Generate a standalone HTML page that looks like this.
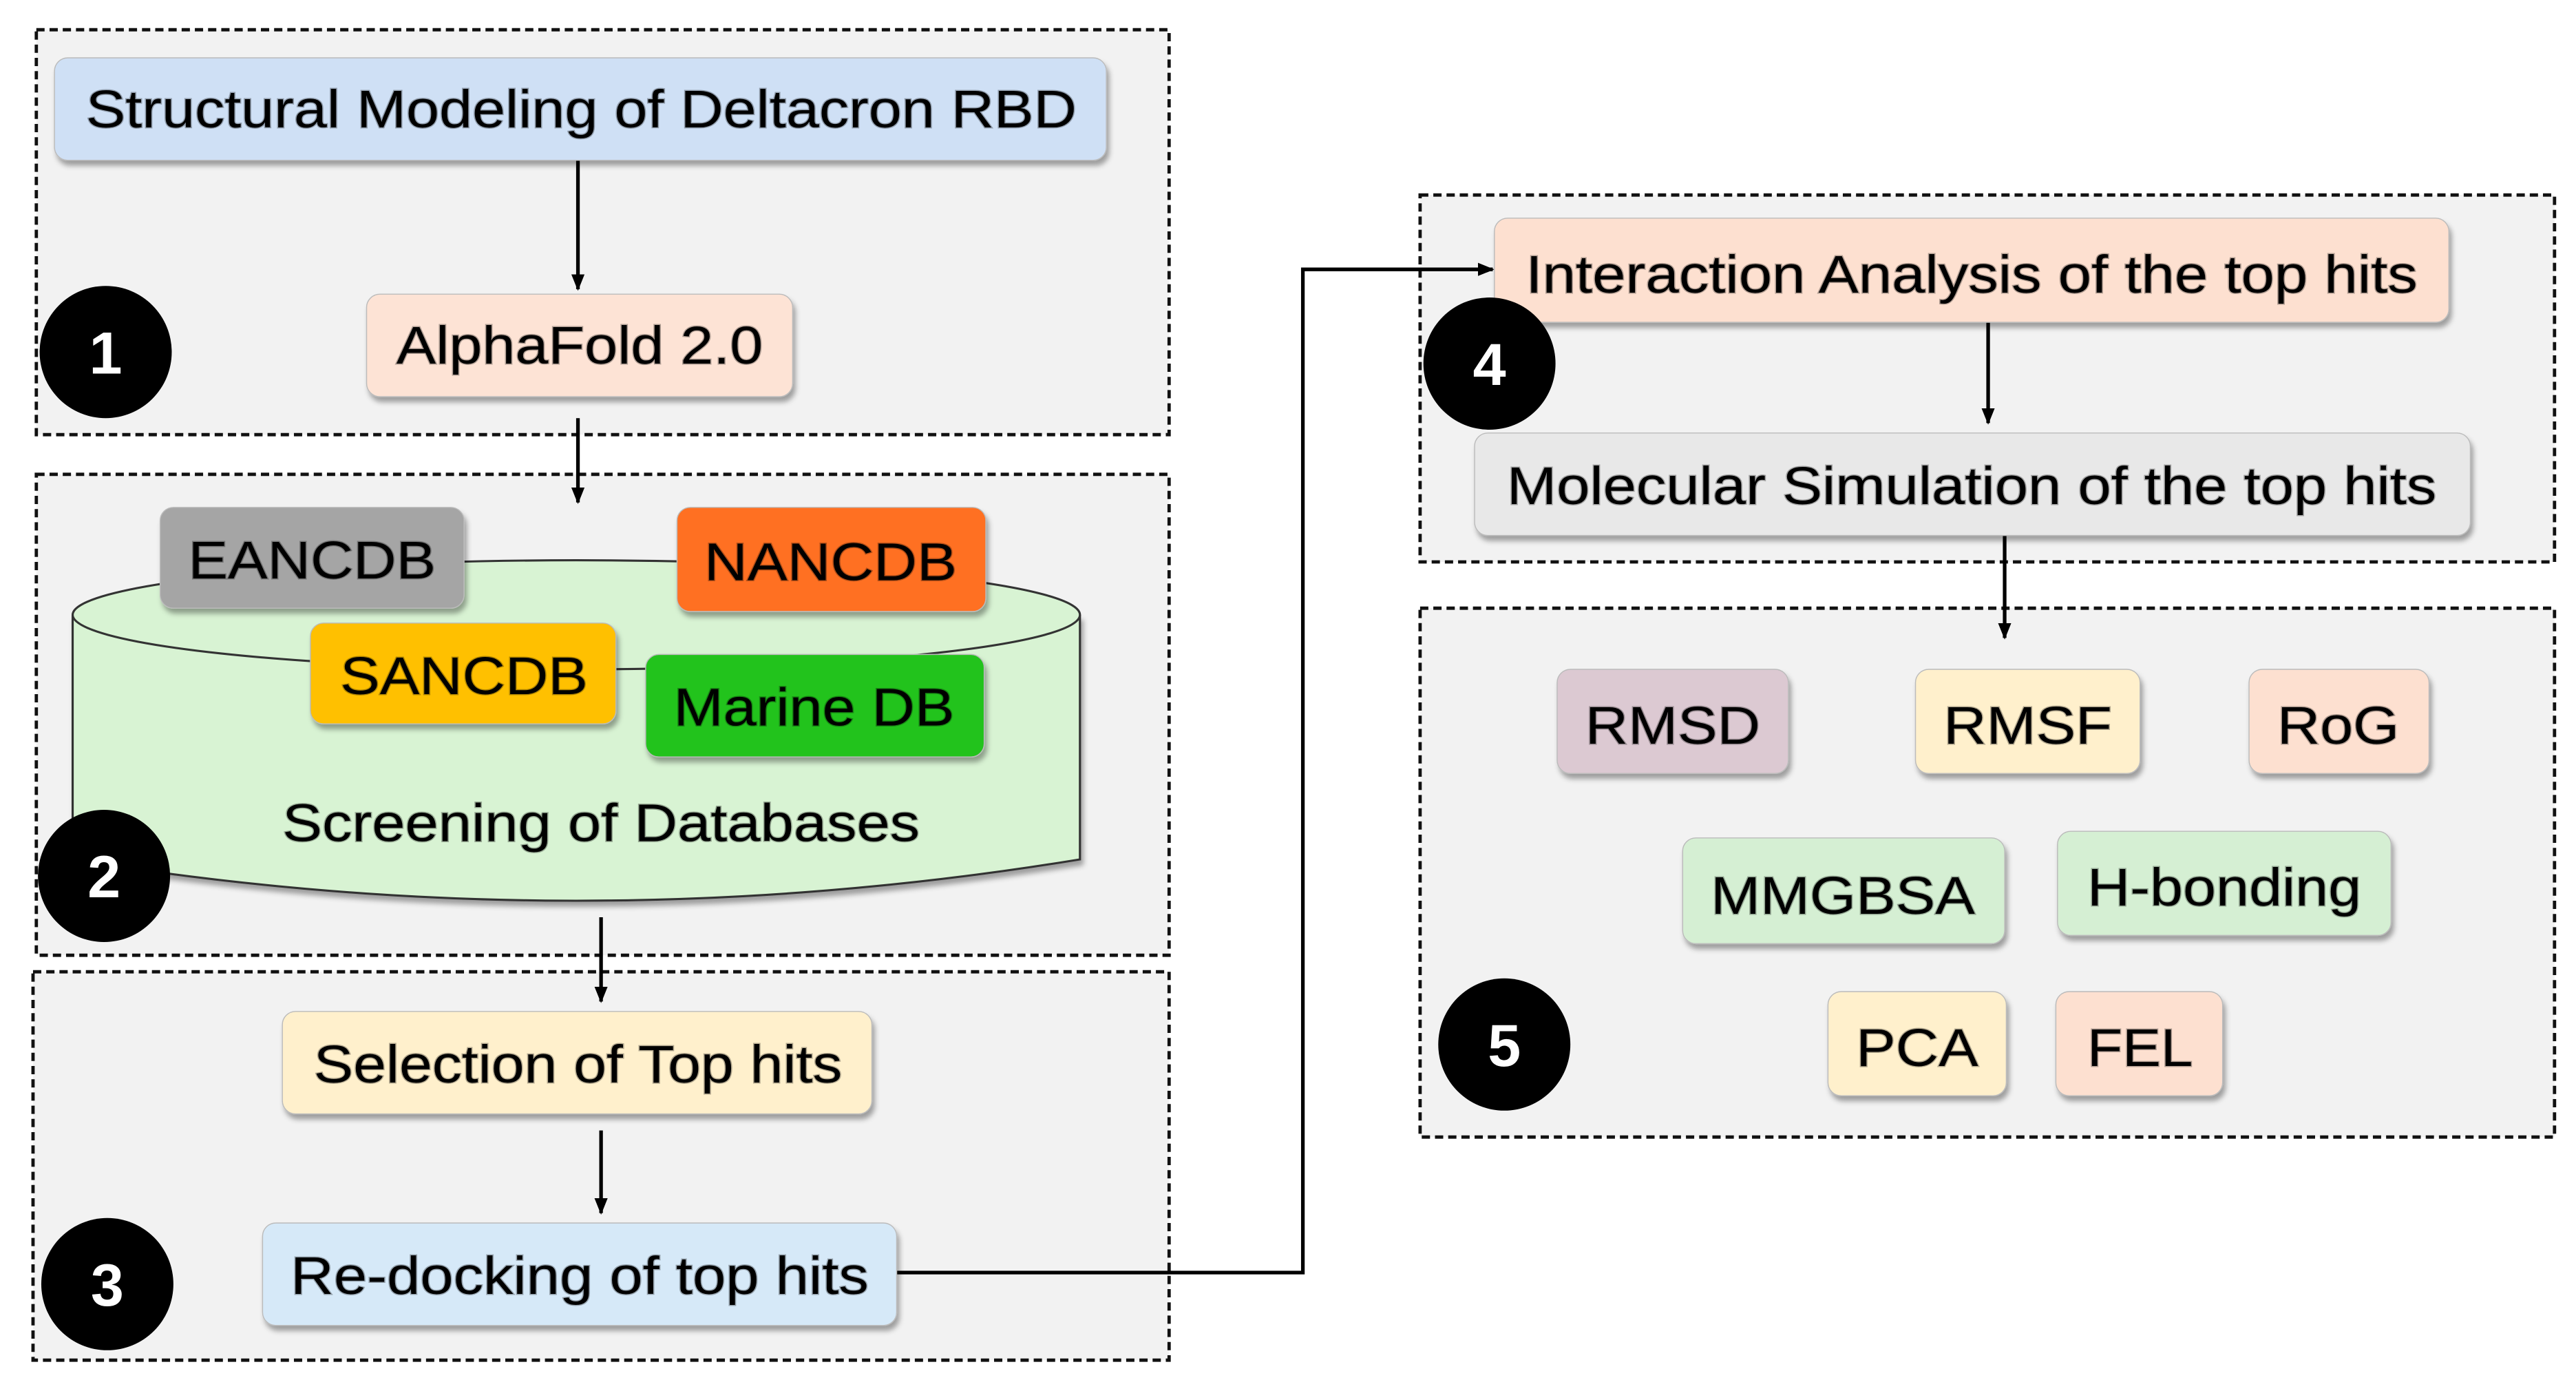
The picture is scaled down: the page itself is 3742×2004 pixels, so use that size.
<!DOCTYPE html>
<html><head><meta charset="utf-8"><style>
html,body{margin:0;padding:0;background:#fff;}
svg{display:block;}
text{font-family:"Liberation Sans",Arial,sans-serif;}
</style></head><body>
<svg width="3742" height="2004" viewBox="0 0 1560 835" preserveAspectRatio="none" xmlns="http://www.w3.org/2000/svg">
<defs>
<marker id="ah" markerWidth="10" markerHeight="10" refX="9" refY="5" orient="auto" markerUnits="userSpaceOnUse">
<path d="M0,1 L10,5 L0,9 Z" fill="#000"/></marker>
<filter id="sh" x="-10%" y="-10%" width="130%" height="140%"><feDropShadow dx="1.5" dy="3" stdDeviation="1.5" flood-color="#000" flood-opacity="0.35"/></filter>
</defs>
<g fill="#f2f2f2" stroke="#111" stroke-width="2" stroke-dasharray="5,3">
<rect x="22" y="18" width="686" height="245"/>
<rect x="22" y="287" width="686" height="291"/>
<rect x="20" y="588" width="688" height="235"/>
<rect x="860" y="118" width="687" height="222"/>
<rect x="860" y="368" width="687" height="320"/>
</g>
<path d="M44,372 L44,520 Q349,570 654,520 L654,372" fill="#d8f3d3" stroke="#333" stroke-width="1.3" filter="url(#sh)"/>
<ellipse cx="349" cy="372" rx="305" ry="33" fill="#d8f3d3" stroke="#333" stroke-width="1.3"/>
<g stroke="#000" stroke-width="2.2" fill="none">
<line x1="350" y1="97" x2="350" y2="175" marker-end="url(#ah)"/>
<line x1="350" y1="253" x2="350" y2="304" marker-end="url(#ah)"/>
<line x1="364" y1="555" x2="364" y2="606" marker-end="url(#ah)"/>
<line x1="364" y1="684" x2="364" y2="734" marker-end="url(#ah)"/>
<polyline points="543,770 789,770 789,163 904,163" marker-end="url(#ah)"/>
<line x1="1204" y1="195" x2="1204" y2="256" marker-end="url(#ah)"/>
<line x1="1214" y1="324" x2="1214" y2="386" marker-end="url(#ah)"/>
</g>
<g filter="url(#sh)" stroke="#bbb" stroke-width="0.6">
<rect x="33" y="35" width="637" height="62" rx="8" fill="#cfe0f5"/>
<rect x="222" y="178" width="258" height="62" rx="8" fill="#fde3d5"/>
<rect x="97" y="307" width="184" height="61" rx="8" fill="#a5a5a5"/>
<rect x="410" y="307" width="187" height="63" rx="8" fill="#ff7020"/>
<rect x="188" y="377" width="185" height="61" rx="8" fill="#ffc000"/>
<rect x="391" y="396" width="205" height="62" rx="8" fill="#22c31e"/>
<rect x="171" y="612" width="357" height="62" rx="8" fill="#fff0cc"/>
<rect x="159" y="740" width="384" height="62" rx="8" fill="#d6e9f8"/>
<rect x="905" y="132" width="578" height="63" rx="8" fill="#fde0d0"/>
<rect x="893" y="262" width="603" height="62" rx="8" fill="#e8e8e8"/>
<rect x="943" y="405" width="140" height="63" rx="8" fill="#dcc9d2"/>
<rect x="1160" y="405" width="136" height="63" rx="8" fill="#fff0cc"/>
<rect x="1362" y="405" width="109" height="63" rx="8" fill="#fde0d0"/>
<rect x="1019" y="507" width="195" height="64" rx="8" fill="#d5efd3"/>
<rect x="1246" y="503" width="202" height="63" rx="8" fill="#d5efd3"/>
<rect x="1107" y="600" width="108" height="63" rx="8" fill="#fff0cc"/>
<rect x="1245" y="600" width="101" height="63" rx="8" fill="#fde0d0"/>
</g>
<g font-size="32" fill="#000" text-anchor="middle" style="paint-order:stroke" stroke="rgba(0,0,0,0.3)" stroke-width="1.2">
<text x="352" y="77" textLength="600" lengthAdjust="spacingAndGlyphs">Structural Modeling of Deltacron RBD</text>
<text x="351" y="220" textLength="222" lengthAdjust="spacingAndGlyphs">AlphaFold 2.0</text>
<text x="189" y="350" textLength="150" lengthAdjust="spacingAndGlyphs">EANCDB</text>
<text x="503" y="351" textLength="153" lengthAdjust="spacingAndGlyphs">NANCDB</text>
<text x="281" y="420" textLength="150" lengthAdjust="spacingAndGlyphs">SANCDB</text>
<text x="493" y="439" textLength="170" lengthAdjust="spacingAndGlyphs">Marine DB</text>
<text x="364" y="509" textLength="386" lengthAdjust="spacingAndGlyphs">Screening of Databases</text>
<text x="350" y="655" textLength="320" lengthAdjust="spacingAndGlyphs">Selection of Top hits</text>
<text x="351" y="783" textLength="350" lengthAdjust="spacingAndGlyphs">Re-docking of top hits</text>
<text x="1194" y="177" textLength="540" lengthAdjust="spacingAndGlyphs">Interaction Analysis of the top hits</text>
<text x="1194" y="305" textLength="563" lengthAdjust="spacingAndGlyphs">Molecular Simulation of the top hits</text>
<text x="1013" y="450" textLength="106" lengthAdjust="spacingAndGlyphs">RMSD</text>
<text x="1228" y="450" textLength="102" lengthAdjust="spacingAndGlyphs">RMSF</text>
<text x="1416" y="450" textLength="74" lengthAdjust="spacingAndGlyphs">RoG</text>
<text x="1116" y="553" textLength="160" lengthAdjust="spacingAndGlyphs">MMGBSA</text>
<text x="1347" y="548" textLength="166" lengthAdjust="spacingAndGlyphs">H-bonding</text>
<text x="1161" y="645" textLength="74" lengthAdjust="spacingAndGlyphs">PCA</text>
<text x="1296" y="645" textLength="64" lengthAdjust="spacingAndGlyphs">FEL</text>
</g>
<g fill="#000">
<ellipse cx="64" cy="213" rx="40" ry="40"/>
<ellipse cx="63" cy="530" rx="40" ry="40"/>
<ellipse cx="65" cy="777" rx="40" ry="40"/>
<ellipse cx="902" cy="220" rx="40" ry="40"/>
<ellipse cx="911" cy="632" rx="40" ry="40"/>
</g>
<g fill="#fff" font-size="36" font-weight="bold" text-anchor="middle">
<text x="64" y="226">1</text>
<text x="63" y="543">2</text>
<text x="65" y="790">3</text>
<text x="902" y="233">4</text>
<text x="911" y="645">5</text>
</g>
</svg>
</body></html>
